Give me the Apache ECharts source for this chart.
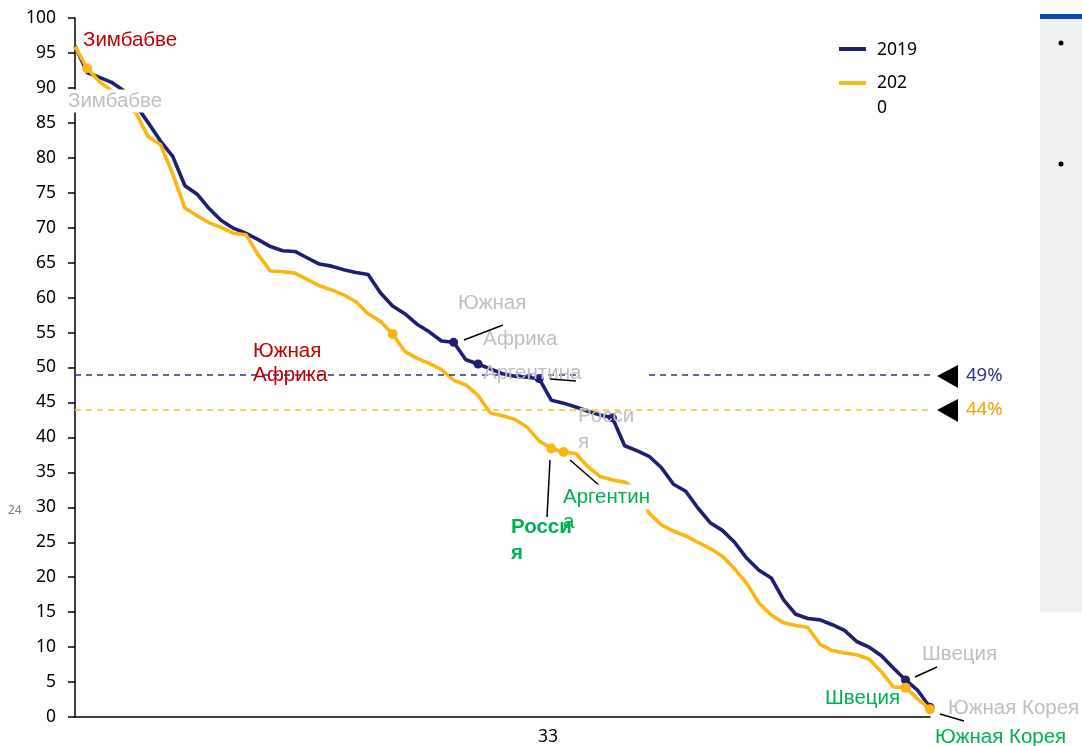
<!DOCTYPE html>
<html>
<head>
<meta charset="utf-8">
<script src="https://cdn.jsdelivr.net/npm/echarts@6/dist/echarts.min.js"></script>
<style>
  html, body { margin: 0; padding: 0; background: #fff; }
  #chart { width: 1082px; height: 746px; }
</style>
</head>
<body>
<div id="chart"></div>
<script>
// Ranks of countries (categories), 71 positions
const ranks = Array.from({ length: 71 }, (_, i) => String(i + 1));

// Series values (share, %)
const values2019 = [96.0, 92.2, 91.5, 90.8, 89.6, 87.5, 85.0, 82.4, 80.2, 76.0, 74.8, 72.7, 71.0, 69.9, 69.2, 68.3, 67.3, 66.7, 66.6, 65.7, 64.8, 64.5, 64.0, 63.6, 63.3, 60.7, 58.8, 57.7, 56.2, 55.1, 53.8, 53.6, 51.1, 50.5, 49.8, 49.1, 48.75, 48.6, 48.4, 45.3, 44.9, 44.35, 43.75, 43.2, 42.8, 38.8, 38.1, 37.3, 35.7, 33.3, 32.3, 29.9, 27.8, 26.7, 25.0, 22.7, 21.0, 19.9, 16.8, 14.7, 14.1, 13.9, 13.2, 12.4, 10.8, 10.0, 8.8, 7.0, 5.3, 3.8, 1.4];
const values2020 = [95.9, 92.8, 90.9, 89.6, 88.0, 86.4, 83.0, 81.9, 77.7, 72.8, 71.7, 70.7, 70.0, 69.2, 69.0, 66.1, 63.8, 63.7, 63.5, 62.6, 61.7, 61.1, 60.4, 59.4, 57.7, 56.6, 54.8, 52.3, 51.3, 50.6, 49.7, 48.2, 47.5, 46.0, 43.5, 43.1, 42.6, 41.5, 39.5, 38.4, 37.9, 37.7, 35.8, 34.4, 33.9, 33.6, 32.5, 29.2, 27.5, 26.6, 25.9, 25.0, 24.1, 23.0, 21.2, 19.1, 16.3, 14.6, 13.5, 13.1, 12.8, 10.4, 9.5, 9.15, 8.9, 8.3, 6.5, 4.3, 4.2, 2.6, 1.1];

// Highlighted countries (index in rank list)
const marked2019 = [31, 33, 38, 44, 68, 70];
const marked2020 = [1, 26, 39, 40, 68, 70];

// Averages
const avg2019 = 49;
const avg2020 = 44;
const avgLabels = ['49%', '44%'];

// Y tick labels
const yTicks = [0, 5, 10, 15, 20, 25, 30, 35, 40, 45, 50, 55, 60, 65, 70, 75, 80, 85, 90, 95, 100];

const NAVY = '#1D1F70';
const YELLOW = '#FBB711';
const RED = '#C00000';
const GREY = '#BFBFBF';
const GREEN = '#00B050';
const AF = '"Liberation Sans", Arial, sans-serif';
const NF = '"Noto Sans", sans-serif';
const FS = 20.5;

const chart = echarts.init(document.getElementById('chart'), null, { renderer: 'canvas' });

function txt(text, x, y, color, size, opts) {
  opts = opts || {};
  return {
    type: 'text', z: opts.z || 50,
    style: Object.assign({
      text: text, x: x, y: y, fill: color,
      font: (opts.bold ? 'bold ' : '') + size + 'px ' + (opts.family || AF),
      verticalAlign: 'middle', align: opts.align || 'left'
    }, opts.bg ? { backgroundColor: '#fff', padding: opts.pad || [2, 2] } : {}, opts.lh ? { lineHeight: opts.lh } : {})
  };
}
function seg(x1, y1, x2, y2) {
  return { type: 'line', z: 50, shape: { x1, y1, x2, y2 }, style: { stroke: '#000', lineWidth: 1.5 } };
}

const option = {
  animation: false,
  grid: { left: 75, right: 152, top: 18, bottom: 29, containLabel: false },
  xAxis: {
    type: 'category', data: ranks, boundaryGap: false,
    axisLine: { show: true, lineStyle: { color: '#000', width: 1.5 } },
    axisTick: { show: false }, axisLabel: { show: false }, splitLine: { show: false }
  },
  yAxis: {
    type: 'value', min: yTicks[0], max: yTicks[yTicks.length - 1], interval: 5,
    axisLine: { show: true, lineStyle: { color: '#000', width: 1.5 } },
    axisTick: { show: true, length: 7, lineStyle: { color: '#000', width: 1.5 } },
    axisLabel: { color: '#000', fontSize: 17.5, fontFamily: NF, margin: 19 },
    splitLine: { show: false }
  },
  series: [
    {
      name: '2019', type: 'line', data: values2019, z: 3,
      symbol: 'circle', showAllSymbol: true,
      symbolSize: (v, p) => marked2019.indexOf(p.dataIndex) >= 0 ? 9 : 0,
      itemStyle: { color: NAVY },
      lineStyle: { color: NAVY, width: 3.6 },
      markLine: {
        silent: true, symbol: ['none', 'none'], label: { show: false },
        lineStyle: { color: '#2E3192', type: [6, 5], width: 1.5 },
        data: [
          [{ coord: [ranks[0], avg2019] }, { coord: [ranks[41], avg2019] }],
          [{ coord: [ranks[47], avg2019] }, { coord: [ranks[70], avg2019] }]
        ]
      }
    },
    {
      name: '2020', type: 'line', data: values2020, z: 4,
      symbol: 'circle', showAllSymbol: true,
      symbolSize: (v, p) => marked2020.indexOf(p.dataIndex) >= 0 ? 10 : 0,
      itemStyle: { color: YELLOW },
      lineStyle: { color: YELLOW, width: 3.6 },
      markLine: {
        silent: true, symbol: ['none', 'none'], label: { show: false },
        lineStyle: { color: '#F7C21D', type: [6, 5], width: 1.5 },
        data: [
          [{ coord: [ranks[0], avg2020] }, { coord: [ranks[70], avg2020] }]
        ]
      }
    }
  ],
  graphic: [
    // right side panel
    { type: 'rect', z: 1, shape: { x: 1040, y: 19, width: 42, height: 593 }, style: { fill: '#F0F0F0' } },
    { type: 'rect', z: 1, shape: { x: 1040, y: 14, width: 42, height: 5 }, style: { fill: '#0A47B5' } },
    { type: 'circle', z: 2, shape: { cx: 1061, cy: 43, r: 2.5 }, style: { fill: '#000' } },
    { type: 'circle', z: 2, shape: { cx: 1061, cy: 164, r: 2.5 }, style: { fill: '#000' } },
    // legend
    { type: 'line', z: 50, shape: { x1: 839, y1: 49, x2: 866, y2: 49 }, style: { stroke: NAVY, lineWidth: 4 } },
    txt('2019', 877, 50, '#000', 17.5, { family: NF }),
    { type: 'line', z: 50, shape: { x1: 839, y1: 83, x2: 866, y2: 83 }, style: { stroke: YELLOW, lineWidth: 4 } },
    txt('202\n0', 877, 96, '#000', 17.5, { family: NF, lh: 25 }),
    // average arrows + labels
    { type: 'polygon', z: 50, shape: { points: [[937, 376], [958, 365], [958, 388]] }, style: { fill: '#000' } },
    { type: 'polygon', z: 50, shape: { points: [[937, 410], [958, 399], [958, 422]] }, style: { fill: '#000' } },
    txt(avgLabels[0], 966, 376, '#2E3192', 18.5, { family: NF }),
    txt(avgLabels[1], 966, 410, '#F5A000', 18.5, { family: NF }),
    // annotations
    txt('Зимбабве', 83, 40, RED, FS),
    txt('Зимбабве', 66, 101, GREY, FS, { bg: true, z: 60, pad: [1, 2] }),
    txt('Южная', 458, 303, GREY, FS),
    txt('Африка', 483, 339, GREY, FS),
    seg(464, 340, 503, 325),
    txt('Южная', 253, 351, RED, FS),
    txt('Африка', 253, 375, RED, FS),
    txt('Аргентина', 483, 373, GREY, FS),
    seg(550, 379, 576, 381),
    txt('Росси', 578, 416, GREY, FS),
    txt('я', 578, 442, GREY, FS),
    seg(550, 460, 547, 517),
    seg(570, 460, 600, 486),
    txt('Аргентин', 561, 497, GREEN, FS, { bg: true, z: 60, pad: [2, 2] }),
    txt('а', 563, 522, GREEN, FS),
    txt('Росси', 511, 527, GREEN, FS, { bold: true, z: 61 }),
    txt('я', 511, 553, GREEN, FS, { bold: true }),
    txt('Швеция', 922, 654, GREY, FS),
    seg(915, 677, 937, 667),
    txt('Швеция', 825, 698, GREEN, FS),
    txt('Южная Корея', 948, 708, GREY, FS),
    seg(940, 714, 964, 721),
    txt('Южная Корея', 935, 737, GREEN, FS),
    // stray page texts
    txt('33', 548, 737, '#000', 17.5, { family: NF, align: 'center' }),
    txt('24', 8, 511, '#7F7F7F', 12, { family: NF })
  ]
};
chart.setOption(option);
</script>
</body>
</html>
